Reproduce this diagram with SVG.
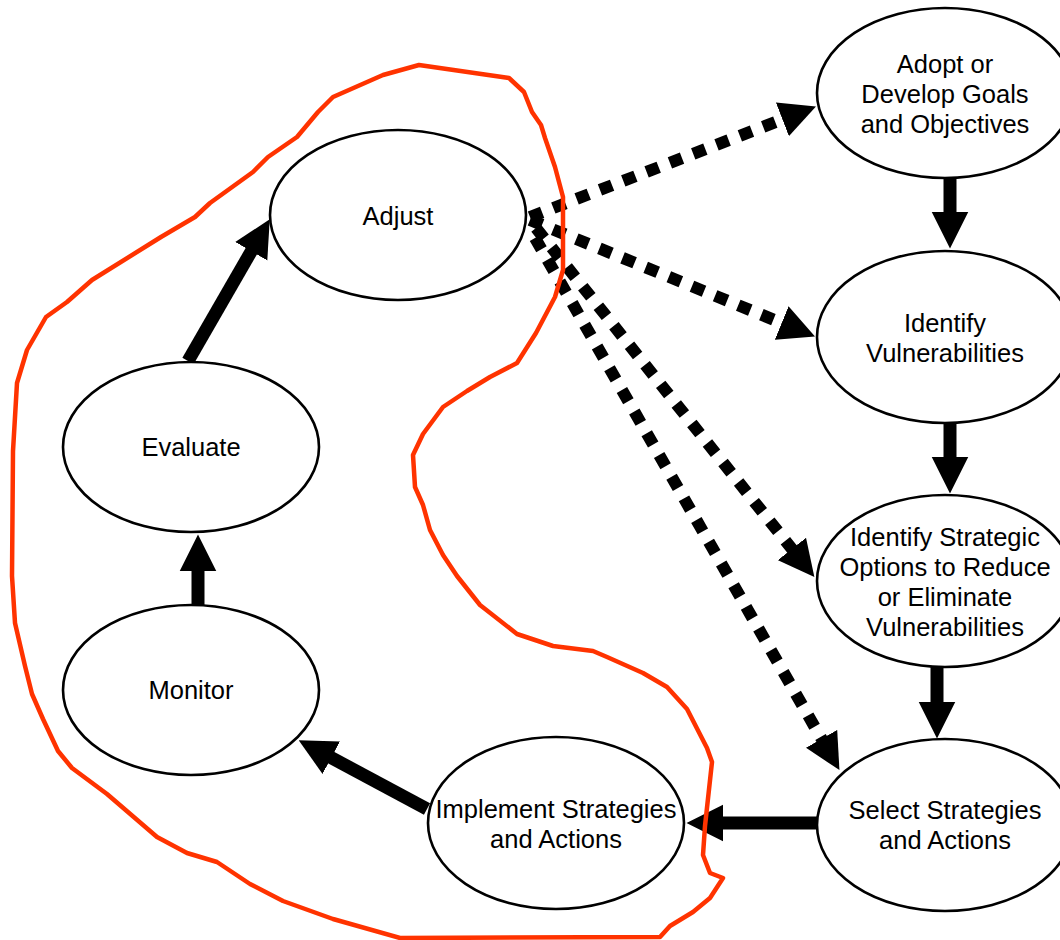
<svg xmlns="http://www.w3.org/2000/svg" width="1060" height="940" viewBox="0 0 1060 940">
<defs>
<style>
.node ellipse{fill:#fff;stroke:#000;stroke-width:2.6}
.node text{font-family:"Liberation Sans",Arial,sans-serif;font-size:25.5px;fill:#000;text-anchor:middle}
.solid{stroke:#000;stroke-width:13;fill:none;marker-end:url(#headS)}
.dot{stroke:#000;stroke-width:12;fill:none;stroke-dasharray:13 12;marker-end:url(#headD)}
.lasso{fill:none;stroke:#ff3300;stroke-width:4.5;stroke-linejoin:round;stroke-linecap:round}
</style>
<marker id="headS" viewBox="0 0 10 10" refX="0.4" refY="5" markerUnits="userSpaceOnUse" markerWidth="37" markerHeight="38" orient="auto">
<path d="M0,0 L10,5 L0,10 z" fill="#000"/>
</marker>
<marker id="headD" viewBox="0 0 10 10" refX="0.3" refY="5" markerUnits="userSpaceOnUse" markerWidth="36" markerHeight="36" orient="auto">
<path d="M0,0 L10,5 L0,10 z" fill="#000"/>
</marker>
</defs>
<rect width="1060" height="940" fill="#fff"/>

<g id="connectors">
<line class="solid" x1="950" y1="178" x2="950" y2="213"/>
<line class="solid" x1="950" y1="423" x2="950" y2="458"/>
<line class="solid" x1="937" y1="667" x2="937" y2="703"/>
<line class="solid" x1="818" y1="823" x2="722" y2="823"/>
<line class="solid" x1="427" y1="809" x2="330" y2="757"/>
<line class="solid" x1="198" y1="605" x2="198" y2="570"/>
<line class="solid" x1="188" y1="361" x2="252" y2="250"/>
<line class="dot" x1="530" y1="217" x2="783.4" y2="119"/>
<line class="dot" x1="530" y1="220" x2="782.7" y2="323.4"/>
<line class="dot" x1="536" y1="228" x2="792.6" y2="549.8"/>
<line class="dot" x1="535" y1="238" x2="822.1" y2="739.8"/>
</g>

<g id="node-adopt" class="node">
<ellipse cx="945" cy="93" rx="128" ry="85"/>
<text x="945" y="73">Adopt or</text>
<text x="945" y="103">Develop Goals</text>
<text x="945" y="133">and Objectives</text>
</g>
<g id="node-identify-vulnerabilities" class="node">
<ellipse cx="945" cy="337" rx="128" ry="86"/>
<text x="945" y="332">Identify</text>
<text x="945" y="362">Vulnerabilities</text>
</g>
<g id="node-identify-options" class="node">
<ellipse cx="945" cy="581" rx="128" ry="86"/>
<text x="945" y="546">Identify Strategic</text>
<text x="945" y="576">Options to Reduce</text>
<text x="945" y="606">or Eliminate</text>
<text x="945" y="636">Vulnerabilities</text>
</g>
<g id="node-select" class="node">
<ellipse cx="945" cy="825" rx="128" ry="86"/>
<text x="945" y="819">Select Strategies</text>
<text x="945" y="849">and Actions</text>
</g>
<g id="node-implement" class="node">
<ellipse cx="556" cy="823" rx="128" ry="86"/>
<text x="556" y="818">Implement Strategies</text>
<text x="556" y="848">and Actions</text>
</g>
<g id="node-monitor" class="node">
<ellipse cx="191" cy="690" rx="128" ry="85"/>
<text x="191" y="699">Monitor</text>
</g>
<g id="node-evaluate" class="node">
<ellipse cx="191" cy="447" rx="128" ry="85"/>
<text x="191" y="456">Evaluate</text>
</g>
<g id="node-adjust" class="node">
<ellipse cx="398" cy="215" rx="128" ry="85"/>
<text x="398" y="225">Adjust</text>
</g>

<path id="lasso" class="lasso" d="M419,65 L509,78 L524,92 L532,112 L541,125 L545,138 L555,167 L563,197 L563,270 L555,297 L536,333 L517,363 L490,377 L467,391 L443,407 L423,434 L413,455 L415,487 L423,505 L430,530 L443,555 L457,576 L480,605 L517,634 L553,646 L593,651 L607,657 L643,673 L667,687 L687,709 L707,748 L712,762 L705,826 L703,855 L710,873 L723,878 L710,898 L693,912 L670,926 L660,937 L400,938 L333,919 L283,901 L250,884 L217,862 L187,853 L157,837 L107,794 L72,768 L58,751 L43,719 L32,694 L25,666 L15,623 L12,576 L13,451 L17,383 L27,350 L46,317 L67,302 L92,280 L161,237 L195,217 L210,203 L253,172 L268,157 L297,137 L318,112 L333,97 L383,75 Z"/>
</svg>
